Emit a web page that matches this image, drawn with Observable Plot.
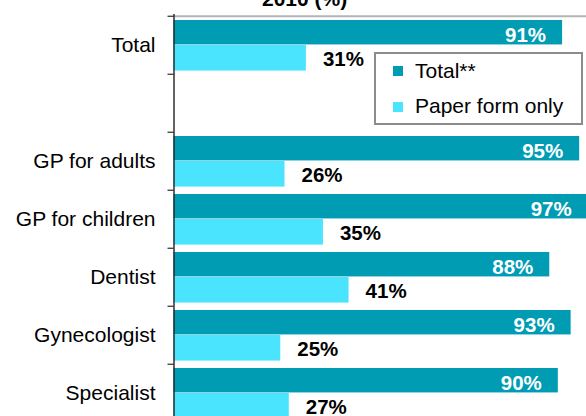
<!DOCTYPE html>
<html>
<head>
<meta charset="utf-8">
<script src="https://cdn.jsdelivr.net/npm/d3@7"></script>
<script src="https://cdn.jsdelivr.net/npm/@observablehq/plot@0.6"></script>
<style>
  html, body { margin: 0; padding: 0; overflow: hidden; background: #fff; width: 586px; height: 416px; }
  body { position: relative; font-family: "Liberation Sans", Arial, sans-serif; }
  #chart { position: absolute; left: 0; top: 0; }
  .title { position: absolute; left: 262px; top: -12px; font-size: 21px; line-height: 21px; font-weight: bold; white-space: nowrap; color: #000; }
  .legend-box { position: absolute; left: 374px; top: 52px; width: 209px; height: 73px; box-sizing: border-box; border: 2px solid #8c8c8c; background: #fff; }
  .sw { position: absolute; width: 10px; height: 10px; }
  .lt { position: absolute; left: 415px; font-size: 21px; line-height: 21px; white-space: nowrap; color: #000; }
</style>
</head>
<body>
<div id="chart"></div>
<script>
// ---- data ----
const categories = ["Total", " ", "GP for adults", "GP for children", "Dentist", "Gynecologist", "Specialist"];
const barCategories = ["Total", "GP for adults", "GP for children", "Dentist", "Gynecologist", "Specialist"];
const totalValues = [91, 95, 97, 88, 93, 90];
const paperValues = [31, 26, 35, 41, 25, 27];
const seriesNames = ["Total**", "Paper form only"];
const titleText = "2010 (%)";

const colors = {total: "#009cb4", paper: "#4ae4fe"};

const rows = barCategories.map((c, i) => ({category: c, total: totalValues[i], paper: paperValues[i]}));

const W = 586, H = 430, MT = 14, MB = 6;
const bw = (H - MT - MB) / categories.length;

const chart = Plot.plot({
  width: W,
  height: H,
  marginLeft: 173.5,
  marginRight: 0,
  marginTop: MT,
  marginBottom: MB,
  style: {fontFamily: "'Liberation Sans', Arial, sans-serif", background: "#fff", color: "#000"},
  x: {domain: [0, 96.6], axis: null},
  y: {domain: categories, padding: 0, axis: null},
  marks: [
    Plot.ruleY(["Total"], {dy: -bw / 2, stroke: "#b4b4b4", strokeWidth: 2}),
    Plot.barX(rows, {x: "total", y: "category", fill: colors.total, insetTop: 4, insetBottom: bw - 29}),
    Plot.barX(rows, {x: "paper", y: "category", fill: colors.paper, insetTop: 29, insetBottom: 3.4}),
    Plot.ruleX([0], {stroke: "#222", strokeWidth: 1.4}),
    Plot.axisY({tickSize: 0, tickPadding: 18.5, fontSize: 21, color: "#000", label: null}),
    Plot.axisY({tickSize: 6, tickFormat: () => "", dy: -bw / 2, stroke: "#000", label: null}),
    Plot.text(rows, {x: "total", y: "category", text: d => d.total + "%", textAnchor: "end", dx: -16.5, dy: -10.2, fill: "#fff", fontWeight: "bold", fontSize: 20.5}),
    Plot.text(rows, {x: "paper", y: "category", text: d => d.paper + "%", textAnchor: "start", dx: 16.5, dy: 14, fill: "#000", fontWeight: "bold", fontSize: 20.5})
  ]
});
document.getElementById("chart").appendChild(chart);

// title (only its last line is visible in the frame)
const t = document.createElement("div");
t.className = "title";
t.textContent = titleText;
document.body.appendChild(t);

// legend
const box = document.createElement("div");
box.className = "legend-box";
document.body.appendChild(box);
const legendItems = [
  {name: seriesNames[0], color: colors.total, swTop: 66, textTop: 60},
  {name: seriesNames[1], color: colors.paper, swTop: 101.5, textTop: 94.5}
];
for (const it of legendItems) {
  const s = document.createElement("div");
  s.className = "sw";
  s.style.left = "393px";
  s.style.top = it.swTop + "px";
  s.style.background = it.color;
  document.body.appendChild(s);
  const l = document.createElement("div");
  l.className = "lt";
  l.style.top = it.textTop + "px";
  l.textContent = it.name;
  document.body.appendChild(l);
}
</script>
</body>
</html>
